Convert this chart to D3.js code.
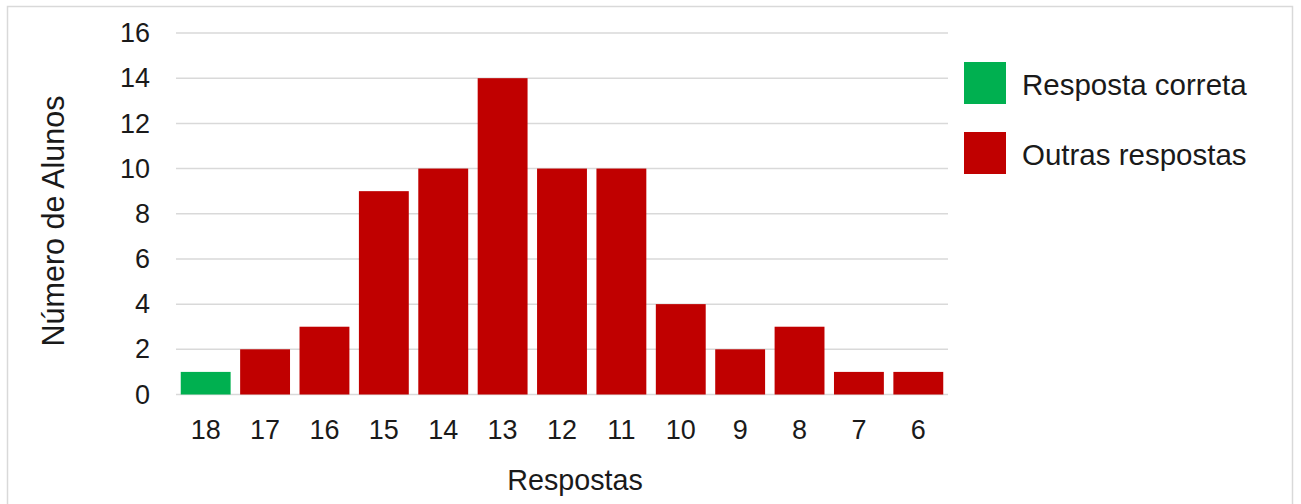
<!DOCTYPE html>
<html>
<head>
<meta charset="utf-8">
<script src="https://cdn.jsdelivr.net/npm/d3@7"></script>
<style>
  html, body { margin: 0; padding: 0; background: #fff; }
  svg { display: block; font-family: "Liberation Sans", Arial, sans-serif; }
</style>
</head>
<body>
<svg id="chart" width="1301" height="504"></svg>
<script>
// Answers given, from the correct one down to the lowest
const categories = ["18", "17", "16", "15", "14", "13", "12", "11", "10", "9", "8", "7", "6"];
const students   = [1, 2, 3, 9, 10, 14, 10, 10, 4, 2, 3, 1, 1];
const correctAnswer = "18";
const yTicks = [0, 2, 4, 6, 8, 10, 12, 14, 16];
const legendItems = ["Resposta correta", "Outras respostas"];
const legendColors = ["#00b050", "#c00000"];

const svg = d3.select("#chart");

// outer frame
svg.append("rect")
  .attr("x", 7.5).attr("y", 6.5)
  .attr("width", 1285).attr("height", 520)
  .attr("fill", "#fff")
  .attr("stroke", "#d9d9d9").attr("stroke-width", 1.5);

const plot = { left: 176, right: 948, top: 33, bottom: 394.5 };

const x = d3.scaleBand()
  .domain(categories)
  .range([plot.left, plot.right])
  .paddingInner(0.16)
  .paddingOuter(0.08);

const y = d3.scaleLinear()
  .domain([0, 16])
  .range([plot.bottom, plot.top]);

// horizontal gridlines
svg.append("g")
  .selectAll("line")
  .data(yTicks)
  .join("line")
  .attr("x1", plot.left).attr("x2", plot.right)
  .attr("y1", d => y(d)).attr("y2", d => y(d))
  .attr("stroke", "#d9d9d9").attr("stroke-width", 1.5);

// bars
svg.append("g")
  .selectAll("rect")
  .data(categories.map((c, i) => ({ c, v: students[i] })))
  .join("rect")
  .attr("x", d => x(d.c))
  .attr("width", x.bandwidth())
  .attr("y", d => y(d.v))
  .attr("height", d => y(0) - y(d.v))
  .attr("fill", d => d.c === correctAnswer ? legendColors[0] : legendColors[1]);

// y axis labels
const yAxis = svg.append("g")
  .attr("transform", `translate(${plot.left - 26},0)`)
  .call(d3.axisLeft(y).tickValues(yTicks).tickSize(0).tickPadding(0));
yAxis.select(".domain").remove();
yAxis.selectAll("text")
  .attr("font-size", 27).attr("fill", "#1a1a1a")
  .attr("font-family", "Liberation Sans, Arial, sans-serif");

// x axis labels
const xAxis = svg.append("g")
  .attr("transform", `translate(0,${plot.bottom})`)
  .call(d3.axisBottom(x).tickSize(0).tickPadding(0));
xAxis.select(".domain").remove();
xAxis.selectAll("text")
  .attr("dy", null)
  .attr("y", 44)
  .attr("font-size", 27).attr("fill", "#1a1a1a")
  .attr("font-family", "Liberation Sans, Arial, sans-serif");

// axis titles
svg.append("text")
  .attr("x", 575).attr("y", 490)
  .attr("text-anchor", "middle")
  .attr("font-size", 28.7).attr("fill", "#1a1a1a")
  .text("Respostas");

svg.append("text")
  .attr("transform", "translate(64,221) rotate(-90)")
  .attr("text-anchor", "middle")
  .attr("font-size", 30.5).attr("fill", "#1a1a1a")
  .text("Número de Alunos");

// legend
const legend = svg.append("g")
  .selectAll("g")
  .data(legendItems)
  .join("g")
  .attr("transform", (d, i) => `translate(964,${62 + i * 70})`);
legend.append("rect")
  .attr("width", 42).attr("height", 42)
  .attr("fill", (d, i) => legendColors[i]);
legend.append("text")
  .attr("x", 58).attr("y", 32.5)
  .attr("font-size", 29.5).attr("fill", "#1a1a1a")
  .text(d => d);
</script>
</body>
</html>
